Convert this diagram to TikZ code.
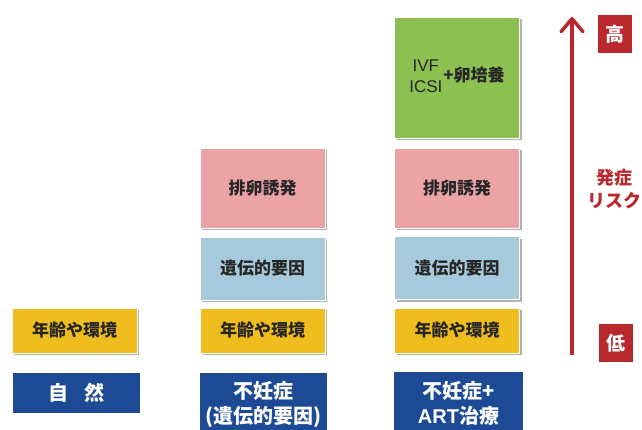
\documentclass[tikz,border=0pt]{standalone}
\usepackage{fontspec}
\setmainfont{Noto Sans CJK JP}
\newfontfamily\latinfont{Liberation Sans}
\usetikzlibrary{arrows.meta,shadows}
\definecolor{cyellow}{HTML}{F0BD1E}
\definecolor{cblue}{HTML}{A6C9DB}
\definecolor{cpink}{HTML}{EBA3A6}
\definecolor{cgreen}{HTML}{8CC152}
\definecolor{cnavy}{HTML}{1D4A94}
\definecolor{cred}{HTML}{B8282C}
\definecolor{ctext}{HTML}{262626}
\tikzset{
  box/.style={draw=white, line width=0.8pt, inner sep=0pt, text=ctext,
    font=\bfseries\fontsize{17}{20}\selectfont,
    drop shadow={shadow xshift=2.2pt, shadow yshift=-2.2pt, opacity=0.55, fill=black!55}},
  ybox/.style={box, fill=cyellow, minimum width=125pt, minimum height=45pt},
  bbox/.style={box, fill=cblue, minimum width=125pt, minimum height=63pt},
  pbox/.style={box, fill=cpink, minimum width=125pt, minimum height=80pt},
  gbox/.style={box, fill=cgreen, minimum width=125pt, minimum height=121pt},
  nbox/.style={fill=cnavy, text=white, inner sep=0pt, minimum width=127pt, align=center,
    font=\bfseries\fontsize{20}{25}\selectfont},
  rbox/.style={fill=cred, text=white, inner sep=0pt, minimum width=34pt, minimum height=38pt,
    font=\bfseries\fontsize{19}{22}\selectfont},
  risk/.style={text=cred, align=center, font=\bfseries\fontsize{18}{23}\selectfont},
}
\begin{document}
\begin{tikzpicture}[x=1pt,y=-1pt]
\useasboundingbox (0,0) rectangle (642,430);
\fill[white] (0,0) rectangle (642,430);
% column 1
\node[ybox] (y1) at (74.5,330.5) {年齢や環境};
\node[nbox, minimum height=40pt] (n1) at (76.5,393) {自\hspace{16pt}然};
% column 2
\node[pbox] (p2) at (262.5,188) {\raisebox{-3pt}{排卵誘発}};
\node[bbox] (b2) at (262.5,268.5) {遺伝的要因};
\node[ybox] (y2) at (262.5,330.5) {年齢や環境};
\node[nbox, minimum height=62pt, anchor=north] (n2) at (263.5,373) {不妊症\\(遺伝的要因)};
% column 3
\node[gbox] (g3) at (457,77.5) {{\mdseries\latinfont\fontsize{17}{21}\selectfont\begin{tabular}{@{}c@{}}IVF\\ICSI\end{tabular}}\hspace{1pt}+卵培養};
\node[pbox] (p3) at (457,188) {\raisebox{-3pt}{排卵誘発}};
\node[bbox] (b3) at (457,268) {遺伝的要因};
\node[ybox] (y3) at (457,330.5) {年齢や環境};
\node[nbox, minimum width=129pt, minimum height=62pt, anchor=north] (n3) at (458.5,372) {不妊症+\\{\latinfont ART}治療};
% risk arrow
\coordinate (alow) at (572,355);
\coordinate (ahigh) at (572,17);
\draw[cred, line width=3.5pt, -{Straight Barb[length=13pt,width=22pt,line width=3.5pt,round]}] (alow) -- (ahigh);
\node[rbox] (hi) at (615,34) {高};
\node[rbox] (lo) at (616,343) {低};
\node[risk] (rk) at (614,189) {発症\\リスク};
\end{tikzpicture}
\end{document}
